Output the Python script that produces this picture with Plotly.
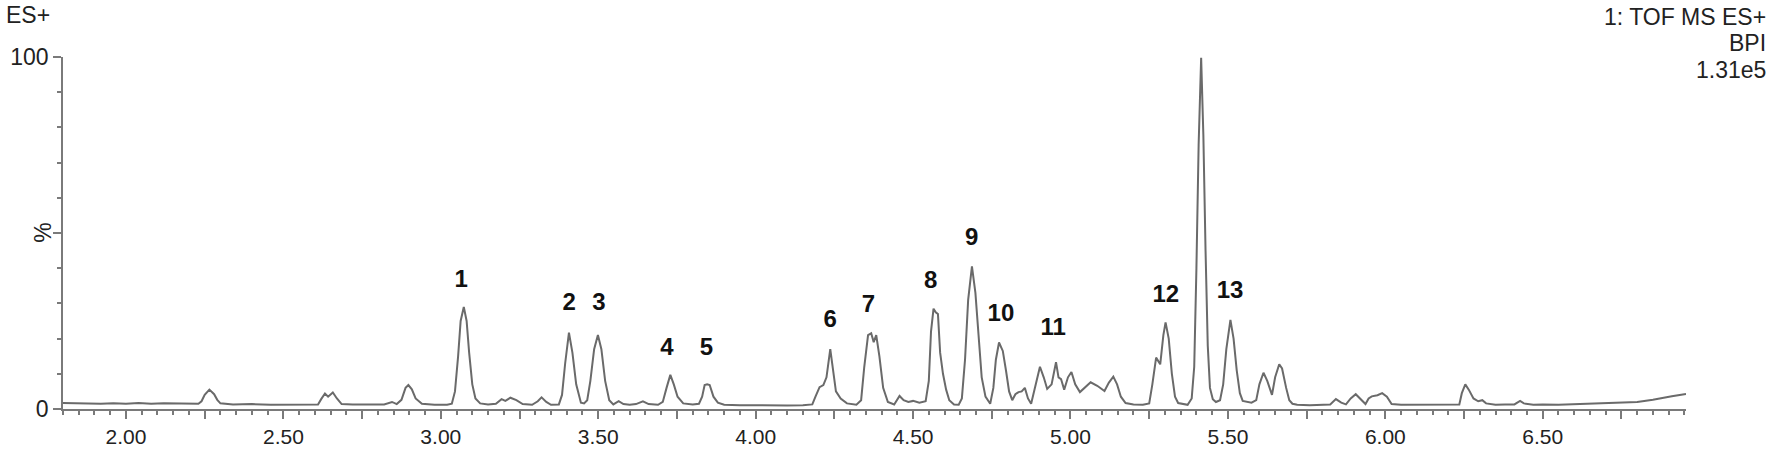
import plotly.graph_objects as go

# retention time (min) and base peak intensity (% of 1.31e5)
rt_min = [
    1.80, 1.84, 1.88, 1.92, 1.96, 2.00, 2.04, 2.08, 2.12, 2.16, 2.20, 2.23,
    2.24, 2.25, 2.265, 2.28, 2.29, 2.30,
    2.34, 2.40, 2.46, 2.52, 2.58, 2.61,
    2.62, 2.632, 2.642, 2.657, 2.67, 2.685, 2.72, 2.78, 2.82, 2.845, 2.86,
    2.875, 2.888, 2.897, 2.908, 2.92, 2.94, 2.98, 3.02, 3.035,
    3.045, 3.055, 3.063, 3.073, 3.082, 3.09, 3.10, 3.11, 3.125, 3.15,
    3.175, 3.193, 3.205, 3.221, 3.24, 3.26, 3.29, 3.308, 3.32, 3.335, 3.35, 3.375,
    3.385, 3.395, 3.407, 3.418, 3.43, 3.445, 3.455,
    3.465, 3.475, 3.487, 3.499, 3.51, 3.522, 3.535, 3.548, 3.565, 3.58, 3.60,
    3.62, 3.642, 3.66, 3.69, 3.705,
    3.717, 3.729, 3.74, 3.752, 3.77, 3.80, 3.82,
    3.83, 3.838, 3.846, 3.854, 3.866, 3.88, 3.90, 3.95, 4.00, 4.05, 4.10, 4.15, 4.18,
    4.19, 4.203, 4.215, 4.225, 4.237, 4.245, 4.255, 4.27, 4.29, 4.32,
    4.335, 4.345, 4.357, 4.367, 4.375, 4.383, 4.393, 4.405, 4.42, 4.44,
    4.457, 4.47, 4.485, 4.50, 4.52, 4.54,
    4.55, 4.557, 4.565, 4.572, 4.579, 4.586, 4.595, 4.605, 4.615, 4.63, 4.645,
    4.655, 4.665, 4.675, 4.687, 4.698, 4.708, 4.718, 4.73, 4.745,
    4.755, 4.763, 4.773, 4.785, 4.795, 4.805, 4.815, 4.825, 4.835, 4.845, 4.855,
    4.865, 4.875, 4.888,
    4.903, 4.915, 4.926, 4.94, 4.954, 4.962, 4.97, 4.98, 4.992, 5.003, 5.015,
    5.03, 5.045, 5.064, 5.085, 5.108, 5.122, 5.136, 5.148, 5.16, 5.175, 5.20,
    5.23, 5.25,
    5.26, 5.272, 5.285, 5.295, 5.302, 5.312, 5.322, 5.332, 5.342, 5.36, 5.372,
    5.385, 5.393, 5.400, 5.407, 5.415, 5.422, 5.429, 5.436, 5.443, 5.452, 5.462,
    5.475, 5.485, 5.495, 5.508, 5.518, 5.528, 5.538, 5.547, 5.56, 5.575,
    5.59, 5.60, 5.613, 5.625, 5.64, 5.65, 5.663, 5.672, 5.685, 5.695, 5.705,
    5.72, 5.76, 5.80, 5.825, 5.843, 5.86, 5.875, 5.89, 5.906, 5.92, 5.937,
    5.947, 5.957, 5.975, 5.99, 6.005, 6.02, 6.05, 6.10, 6.15, 6.20, 6.235,
    6.243, 6.254, 6.265, 6.28, 6.295, 6.308, 6.32, 6.35, 6.38, 6.41, 6.428,
    6.44, 6.47, 6.50, 6.55, 6.60, 6.65, 6.70, 6.75, 6.80, 6.85, 6.88, 6.91,
    6.93, 6.955,
]
bpi_pct = [
    1.7, 1.6, 1.7, 1.5, 1.6, 1.5, 1.7, 1.5, 1.6, 1.5, 1.6, 1.5,
    2.2, 4.0, 5.5, 4.2, 2.6, 1.6,
    1.3, 1.4, 1.2, 1.3, 1.2, 1.3,
    2.8, 4.4, 3.5, 4.7, 3.0, 1.4, 1.3, 1.2, 1.3, 2.0, 1.4,
    2.6, 6.0, 6.8, 5.6, 3.0, 1.5, 1.2, 1.2, 1.5,
    5.0, 15.0, 25.0, 29.0, 25.0, 16.0, 7.0, 3.0, 1.6, 1.3,
    1.5, 2.8, 2.3, 3.2, 2.5, 1.4, 1.2, 2.2, 3.3, 2.0, 1.2, 1.3,
    4.0, 13.0, 21.7, 16.0, 7.0, 1.8, 1.6,
    2.5, 8.0, 17.0, 21.0, 17.0, 8.0, 2.5, 1.3, 2.2, 1.4, 1.2,
    1.4, 2.2, 1.4, 1.2, 2.0,
    6.0, 9.7, 7.0, 3.5, 1.6, 1.3, 1.5,
    3.5, 6.8, 7.0, 6.8, 3.5, 1.8, 1.2, 1.1, 1.0, 1.1, 1.0, 1.1, 1.3,
    3.5, 6.2, 6.8, 9.0, 17.0, 11.0, 5.0, 3.0, 1.6, 1.2,
    2.5, 12.0, 21.0, 21.5, 19.0, 21.0, 15.0, 6.0, 2.0, 1.3,
    3.7, 2.5, 2.0, 2.3, 1.8, 2.2,
    8.0, 22.0, 28.5, 27.5, 27.0, 16.0, 10.0, 5.5, 2.5, 1.3, 1.2,
    3.0, 14.0, 31.0, 40.5, 33.0, 20.0, 9.0, 3.5, 1.5,
    6.0, 14.0, 18.9, 16.5, 11.0, 5.0, 2.5, 4.2, 4.8, 5.0, 6.0,
    3.0, 1.5, 6.0,
    12.0, 9.0, 5.7, 7.0, 13.3, 9.0, 8.5, 5.5, 9.0, 10.5, 7.0,
    4.8, 6.0, 7.6, 6.6, 5.1, 7.5, 9.2, 7.0, 3.5, 1.7, 1.3,
    1.2, 1.6,
    7.0, 14.6, 12.7, 21.0, 24.6, 20.0, 10.0, 3.5, 1.7, 1.4, 1.2,
    3.0, 12.0, 40.0, 75.0, 99.8, 78.0, 45.0, 18.0, 6.0, 2.8, 2.0,
    2.5, 7.0, 17.0, 25.3, 20.0, 11.0, 4.5, 2.3, 2.0, 1.8,
    2.5, 7.0, 10.3, 8.0, 4.0, 9.0, 12.7, 11.5, 6.0, 2.5, 1.5,
    1.2, 1.1, 1.2, 1.3, 2.8, 1.8, 1.3, 3.0, 4.2, 3.0, 1.4,
    3.0, 3.6, 3.9, 4.5, 3.5, 1.4, 1.2, 1.2, 1.2, 1.2, 1.3,
    4.5, 7.0, 5.5, 3.0, 2.2, 2.5, 1.6, 1.2, 1.3, 1.3, 2.3,
    1.6, 1.2, 1.3, 1.2, 1.4, 1.5, 1.6, 1.8, 2.0, 2.6, 3.0, 3.6,
    3.9, 4.3,
]

# peak numbers and where their labels sit
peak_ids = ["1", "2", "3", "4", "5", "6", "7", "8", "9", "10", "11", "12", "13"]
peak_rt = [3.065, 3.408, 3.502, 3.718, 3.844, 4.237, 4.358, 4.556, 4.686,
           4.779, 4.945, 5.303, 5.507]
peak_label_pct = [36.5, 29.8, 29.8, 17.0, 17.1, 25.0, 29.2, 36.2, 48.3,
                  26.7, 22.6, 32.0, 33.3]

x_major = [2.00, 2.25, 2.50, 2.75, 3.00, 3.25, 3.50, 3.75, 4.00, 4.25, 4.50,
           4.75, 5.00, 5.25, 5.50, 5.75, 6.00, 6.25, 6.50, 6.75]
x_text = ["2.00", "", "2.50", "", "3.00", "", "3.50", "", "4.00", "", "4.50",
          "", "5.00", "", "5.50", "", "6.00", "", "6.50", ""]

FONT = "Liberation Sans, Arial, sans-serif"
AXIS = "#7a7a7a"
TEXT = "#222222"

fig = go.Figure()
fig.add_trace(go.Scatter(
    x=rt_min, y=bpi_pct, mode="lines",
    line=dict(color="#6a6a6a", width=2),
    hoverinfo="skip", showlegend=False,
))
fig.add_trace(go.Scatter(
    x=peak_rt, y=peak_label_pct, mode="text", text=peak_ids,
    textfont=dict(family=FONT, size=24, color="#111111", weight="bold"),
    cliponaxis=False, hoverinfo="skip", showlegend=False,
))

# header texts in paper coords (plot area spans x 63..1686, y 57..409 px)
header = [
    dict(text="ES+", x=-0.0365, y=1.119, xanchor="left"),
    dict(text="1: TOF MS ES+", x=1.0505, y=1.114, xanchor="right"),
    dict(text="BPI", x=1.0505, y=1.040, xanchor="right"),
    dict(text="1.31e5", x=1.0505, y=0.963, xanchor="right"),
]
annotations = [
    dict(text=h["text"], xref="paper", yref="paper", x=h["x"], y=h["y"],
         xanchor=h["xanchor"], yanchor="middle", showarrow=False,
         font=dict(size=23, color=TEXT))
    for h in header
]
annotations.append(
    dict(text="%", xref="paper", yref="y", x=-0.0125, y=50,
         xanchor="center", yanchor="middle", textangle=-90,
         showarrow=False, font=dict(size=23, color=TEXT))
)

fig.update_layout(
    width=1772, height=449,
    margin=dict(l=63, r=86, t=57, b=40),
    paper_bgcolor="white", plot_bgcolor="white",
    font=dict(family=FONT, size=23, color=TEXT),
    annotations=annotations,
)

fig.update_xaxes(
    range=[1.80, 6.955], showgrid=False, zeroline=False, automargin=False,
    showline=True, linecolor=AXIS, linewidth=1.5,
    tickmode="array", tickvals=x_major, ticktext=x_text,
    ticks="outside", ticklen=8, tickwidth=1.5, tickcolor=AXIS,
    tickfont=dict(size=21, color=TEXT),
    minor=dict(tick0=0, dtick=0.05, ticks="outside", ticklen=4,
               tickwidth=1.5, tickcolor=AXIS, showgrid=False),
)
fig.update_yaxes(
    range=[0, 100], showgrid=False, zeroline=False, automargin=False,
    showline=True, linecolor=AXIS, linewidth=1.5,
    tickmode="array", tickvals=[0, 50, 100], ticktext=["0", "", "100"],
    ticks="outside", ticklen=8, tickwidth=1.5, tickcolor=AXIS,
    tickfont=dict(size=23, color=TEXT),
    minor=dict(tick0=0, dtick=10, ticks="outside", ticklen=4,
               tickwidth=1.5, tickcolor=AXIS, showgrid=False),
)

# drop the browser's default 8px body margin so the figure sits at 0,0
fig.write_html(
    "out.html",
    config={"displayModeBar": False},
    post_script="document.body.style.margin='0';",
)
